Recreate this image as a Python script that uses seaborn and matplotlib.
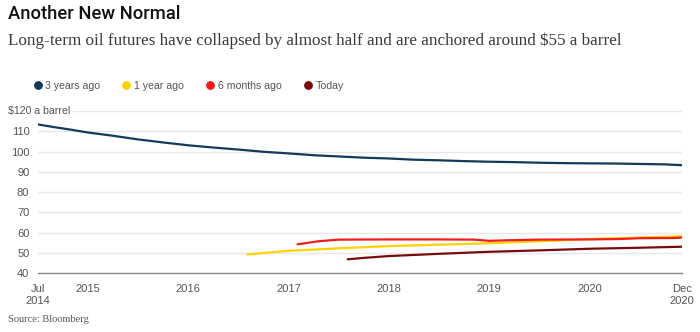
import matplotlib
matplotlib.use("Agg")
import matplotlib.pyplot as plt
import seaborn as sns
import pandas as pd
from matplotlib.lines import Line2D

# ---- data (decimal years, $ per barrel) ----
series_names = ["3 years ago", "1 year ago", "6 months ago", "Today"]
series_colors = ["#143a5a", "#ffd200", "#f41c1c", "#7a0b0b"]

three_years_x = [2014.5, 2014.67, 2014.83, 2015.0, 2015.25, 2015.5, 2015.75, 2016.0,
                 2016.25, 2016.5, 2016.75, 2017.0, 2017.25, 2017.5, 2017.75, 2018.0,
                 2018.25, 2018.5, 2018.75, 2019.0, 2019.25, 2019.5, 2019.75, 2020.0,
                 2020.25, 2020.5, 2020.75, 2020.92]
three_years_y = [113.4, 112.0, 110.8, 109.4, 107.8, 106.0, 104.5, 103.1,
                 102.0, 101.0, 99.9, 99.1, 98.2, 97.6, 97.0, 96.6,
                 96.0, 95.7, 95.3, 95.0, 94.8, 94.5, 94.3, 94.2,
                 94.1, 93.9, 93.7, 93.3]

one_year_x = [2016.59, 2017.0, 2017.5, 2018.0, 2018.5, 2019.0, 2019.5, 2019.8,
              2020.0, 2020.5, 2020.92]
one_year_y = [49.3, 51.1, 52.3, 53.4, 54.1, 54.8, 55.8, 56.4, 56.9, 57.6, 58.3]

six_months_x = [2017.09, 2017.3, 2017.5, 2018.0, 2018.5, 2018.85, 2019.0, 2019.2,
                2019.5, 2020.0, 2020.3, 2020.5, 2020.85, 2020.92]
six_months_y = [54.3, 55.8, 56.6, 56.7, 56.7, 56.6, 56.0, 56.3,
                56.6, 56.7, 56.9, 57.3, 57.4, 57.6]

today_x = [2017.59, 2017.75, 2018.0, 2018.5, 2019.0, 2019.5, 2020.0, 2020.5, 2020.92]
today_y = [46.9, 47.6, 48.5, 49.6, 50.6, 51.3, 52.1, 52.6, 53.1]

x_tick_pos = [2014.5, 2015.0, 2016.0, 2017.0, 2018.0, 2019.0, 2020.0, 2020.92]
x_tick_labels = ["Jul\n2014", "2015", "2016", "2017", "2018", "2019", "2020", "Dec\n2020"]
y_ticks = [40, 50, 60, 70, 80, 90, 100, 110, 120]
y_tick_labels = ["40", "50", "60", "70", "80", "90", "100", "110", ""]
top_label = "$120 a barrel"

title = "Another New Normal"
subtitle = "Long-term oil futures have collapsed by almost half and are anchored around $55 a barrel"
source = "Source: Bloomberg"

# ---- build long frame ----
frames = []
for name, xs, ys in zip(series_names,
                        [three_years_x, one_year_x, six_months_x, today_x],
                        [three_years_y, one_year_y, six_months_y, today_y]):
    frames.append(pd.DataFrame({"date": xs, "price": ys, "series": name}))
df = pd.concat(frames, ignore_index=True)

sns.set_theme(style="white")
plt.rcParams["font.family"] = ["Liberation Sans", "DejaVu Sans"]

W, H = 700, 332
fig = plt.figure(figsize=(W / 100, H / 100), dpi=100)
ax = fig.add_axes([37.7 / W, 58.7 / H, (681.7 - 37.7) / W, (273.3 - 111) / H])

sns.lineplot(data=df, x="date", y="price", hue="series", hue_order=series_names,
             palette=series_colors, linewidth=1.6, legend=False, ax=ax, zorder=3)

ax.set_xlim(2014.5, 2020.92)
ax.set_ylim(40, 120)
ax.set_xlabel("")
ax.set_ylabel("")

ax.set_yticks(y_ticks)
ax.set_yticklabels(y_tick_labels)
ax.yaxis.grid(True, color="#e8e8e8", linewidth=1)
ax.xaxis.grid(False)
ax.tick_params(axis="y", length=0, pad=6, labelsize=8, labelcolor="#555555")

ax.set_xticks(x_tick_pos)
ax.set_xticklabels(x_tick_labels)
ax.tick_params(axis="x", length=4, width=1, color="#888888", pad=4,
               labelsize=8, labelcolor="#555555", direction="out")

for s in ["top", "right", "left"]:
    ax.spines[s].set_visible(False)
ax.spines["bottom"].set_color("#888888")
ax.spines["bottom"].set_linewidth(1)

ax.text(8 / W, 1 - 111 / H, top_label, transform=fig.transFigure, ha="left", va="center",
        fontsize=7.6, color="#555555", zorder=10,
        bbox=dict(facecolor="white", edgecolor="none", pad=2))

# ---- legend ----
handles = [Line2D([0], [0], marker="o", linestyle="none", markersize=5.5,
                  markerfacecolor=c, markeredgecolor=c, markeredgewidth=0.8)
           for c in series_colors]
fig.legend(handles, series_names, loc="center left", bbox_to_anchor=(27 / W, 1 - 86 / H),
           ncol=4, frameon=False, fontsize=7.6, labelcolor="#555555",
           handletextpad=0.25, columnspacing=1.95, handlelength=1.0, borderpad=0)

# ---- titles ----
fig.text(8 / W, 1 - 14 / H, title, ha="left", va="center", fontsize=13.2,
         family=["Roboto", "DejaVu Sans"], weight="medium", color="#111111")
fig.text(8 / W, 1 - 41 / H, subtitle, ha="left", va="center", fontsize=12.35,
         family=["Liberation Serif", "DejaVu Serif"], color="#3a3a3a")
fig.text(8 / W, 1 - 319 / H, source, ha="left", va="center", fontsize=7.5,
         family=["Liberation Serif", "DejaVu Serif"], color="#555555")

fig.savefig("out.png", dpi=100)
